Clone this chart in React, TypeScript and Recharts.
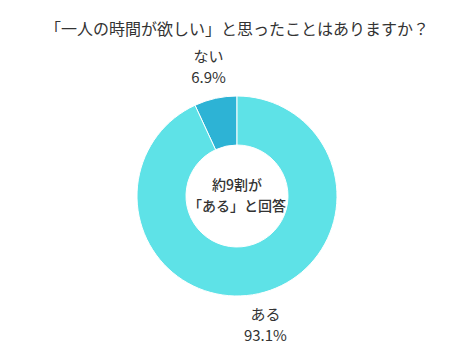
import { PieChart, Pie, Cell } from "recharts"

// Survey answers
const answers = ["ない", "ある"]
const shares = [6.9, 93.1]
const COLORS = ["#2DB3D5", "#5EE2E7"]

const title = "「一人の時間が欲しい」と思ったことはありますか？"
const centerLines = ["約9割が", "「ある」と回答"]

const data = answers.map((name, i) => ({ name, value: shares[i] }))

const FONT = "'Noto Sans CJK JP', 'Noto Sans', sans-serif"
const RADIAN = Math.PI / 180
const CX = 237
const CY = 196

// two-line label (name + percent) placed outside the ring
const renderLabel = (props: any) => {
  const { cx, cy, midAngle, outerRadius, name, value } = props
  const r = outerRadius + 32
  const x = cx + r * Math.cos(-midAngle * RADIAN)
  const y = cy + r * Math.sin(-midAngle * RADIAN)
  return (
    <text x={x} y={y} textAnchor="middle" fill="#333" fontSize={15} fontFamily={FONT}>
      <tspan x={x} dy={-5}>{name}</tspan>
      <tspan x={x} dy={21}>{`${value}%`}</tspan>
    </text>
  )
}

export default function App() {
  return (
    <div style={{ position: "absolute", left: 0, top: 0, width: 474, height: 355, background: "#fff" }}>
      <div
        style={{
          position: "absolute",
          top: 17,
          width: 474,
          textAlign: "center",
          fontFamily: FONT,
          fontSize: 16,
          lineHeight: "22px",
          color: "#333",
        }}
      >
        {title}
      </div>
      <PieChart width={474} height={355} margin={{ top: 0, right: 0, bottom: 0, left: 0 }}>
        <Pie
          data={data}
          dataKey="value"
          nameKey="name"
          cx={CX}
          cy={CY}
          innerRadius={51}
          outerRadius={100}
          startAngle={90}
          endAngle={450}
          stroke="#fff"
          strokeWidth={1}
          label={renderLabel}
          labelLine={false}
          isAnimationActive={false}
        >
          {data.map((entry, index) => (
            <Cell key={`cell-${index}`} fill={COLORS[index % COLORS.length]} />
          ))}
        </Pie>
      </PieChart>
      <div
        style={{
          position: "absolute",
          left: CX - 60,
          top: CY - 22,
          width: 120,
          textAlign: "center",
          fontFamily: FONT,
          fontSize: 14,
          fontWeight: 500,
          lineHeight: "21px",
          color: "#333",
        }}
      >
        <div>{centerLines[0]}</div>
        <div>{centerLines[1]}</div>
      </div>
    </div>
  )
}
